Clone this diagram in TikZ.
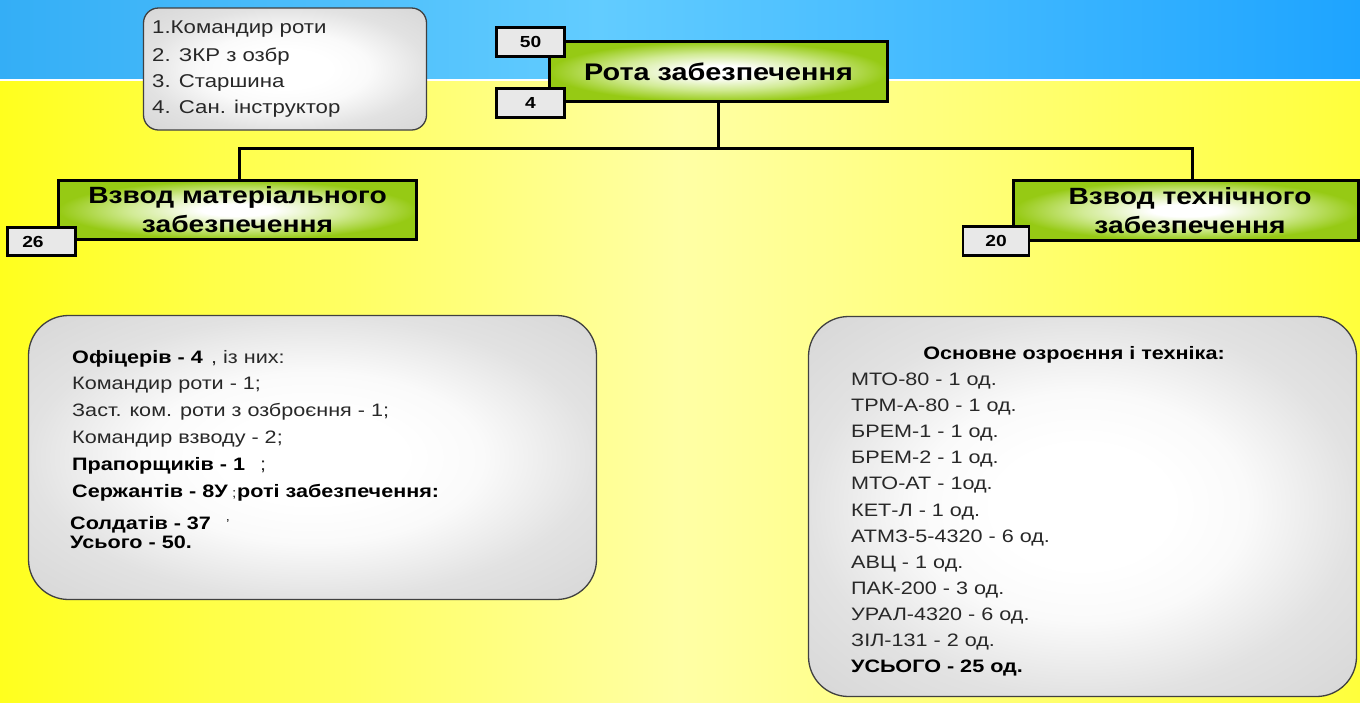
\documentclass[tikz,border=0pt]{standalone}
\usepackage{fontspec}
\setmainfont{Liberation Sans}[FakeStretch=1.2]
\definecolor{grn}{RGB}{150,202,20}
\definecolor{grnL}{RGB}{210,235,150}
\definecolor{boxW}{RGB}{250,250,250}
\definecolor{boxgray}{RGB}{226,226,226}
\definecolor{boxgrayD}{RGB}{212,212,212}
\definecolor{numgray}{RGB}{232,232,232}
\definecolor{blueL}{RGB}{52,174,246}
\definecolor{blueM}{RGB}{98,204,255}
\definecolor{blueR}{RGB}{30,164,255}
\definecolor{yelL}{RGB}{255,255,30}
\definecolor{yelM}{RGB}{255,255,165}
\definecolor{yelR}{RGB}{255,255,60}
\definecolor{txt}{RGB}{40,40,40}
\pgfdeclarehorizontalshading{bluesh}{100bp}{color(0bp)=(blueL); color(25bp)=(blueL); color(47bp)=(blueM); color(75bp)=(blueR); color(100bp)=(blueR)}
\pgfdeclarehorizontalshading{yelsh}{100bp}{color(0bp)=(yelL); color(25bp)=(yelL); color(50bp)=(yelM); color(75bp)=(yelR); color(100bp)=(yelR)}
\pgfdeclareradialshading{greenglow}{\pgfpoint{0bp}{0bp}}{color(0bp)=(white); color(5bp)=(white); color(15bp)=(grnL); color(25bp)=(grn); color(50bp)=(grn)}
\pgfdeclareradialshading{grayglow}{\pgfpoint{0bp}{0bp}}{color(0bp)=(white); color(8bp)=(white); color(15bp)=(boxW); color(25bp)=(boxgray); color(38bp)=(boxgrayD); color(50bp)=(boxgrayD)}
\tikzset{
  greenbox/.style={draw=black, line width=2.6pt, shade, shading=greenglow, inner sep=0pt, align=center, text=black,
    font=\bfseries\fontsize{23.5}{29}\selectfont},
  numbox/.style={draw=black, line width=2.6pt, fill=numgray, inner sep=0pt, text=black,
    font=\bfseries\fontsize{16}{18}\selectfont},
  graybox/.style={draw=black!75, line width=1.3pt, shade, shading=grayglow, inner sep=0pt},
  conn/.style={draw=black, line width=3pt},
  ln/.style={anchor=base west, inner sep=0pt, text=txt, font=\fontsize{18}{20}\selectfont},
  lnb/.style={anchor=base west, inner sep=0pt, text=black, font=\bfseries\fontsize{18}{20}\selectfont},
  noteln/.style={anchor=base west, inner sep=0pt, text=txt, font=\fontsize{18.5}{20}\selectfont}
}
\begin{document}
\begin{tikzpicture}[x=1pt,y=-1pt]
\useasboundingbox (0,0) rectangle (1360,702);
% background
\shade[shading=yelsh] (0,80) rectangle (1360,702);
\shade[shading=bluesh] (0,0) rectangle (1360,80);
\draw[white, line width=2pt] (0,80) -- (1360,80);

% note box
\node[graybox, rounded corners=15pt, minimum width=283pt, minimum height=122pt] (note) at (285,69) {};
\node[noteln] (note1) at (152,33.5) {1.Командир роти};
\node[noteln] (note2) at (152,61) {2. ЗКР з озбр};
\node[noteln] (note3) at (152,87.5) {3. Старшина};
\node[noteln] (note4) at (152,113.5) {4. Сан. інструктор};

% main box
\node[greenbox, font=\bfseries\fontsize{24}{29}\selectfont, minimum width=338pt, minimum height=60pt] (rota) at (718.5,71.5) {Рота забезпечення};
\node[numbox, minimum width=68pt, minimum height=29pt] (n50) at (530.5,42) {50};
\node[numbox, minimum width=68pt, minimum height=29pt] (n4) at (530.5,103) {4};

% platoons
\node[greenbox, minimum width=358pt, minimum height=59pt] (lmat) at (237.5,210) {Взвод матеріального\\забезпечення};
\node[greenbox, minimum width=345pt, minimum height=60pt] (rtech) at (1186,210.5) {\hspace*{8pt}Взвод технічного\\\hspace*{8pt}забезпечення};
\node[numbox, minimum width=68pt, minimum height=28pt] (n26) at (41.5,241.5) {26\hspace*{17pt}};
\node[numbox, minimum width=66pt, minimum height=29pt] (n20) at (996,241) {20};

% connectors
\coordinate (bus) at (0,148);
\draw[conn] (rota.south) -- (rota.south |- bus);
\draw[conn] ([xshift=1.5pt]lmat.north) |- (rota.south |- bus) -| ([xshift=6pt]rtech.north);

% left info box
\node[graybox, rounded corners=40pt, minimum width=568pt, minimum height=284pt] (linfo) at (312.5,457.5) {};
\node[lnb] (l1a) at (72,363) {Офіцерів - 4};
\node[ln] (l1b) at (211,363) {, із них:};
\node[ln] (l2) at (72,389.5) {Командир роти - 1;};
\node[ln] (l3) at (72,416) {Заст. ком. роти з озброєння - 1;};
\node[ln] (l4) at (72,443) {Командир взводу - 2;};
\node[lnb] (l5a) at (72,470) {Прапорщиків - 1};
\node[ln] (l5b) at (260,470) {;};
\node[lnb] (l6a) at (72,497.5) {Сержантів - 8У};
\node[ln, font=\fontsize{13}{14}\selectfont] (l6b) at (232,497.5) {;};
\node[lnb] (l6c) at (237,497.5) {роті забезпечення:};
\node[lnb] (l7a) at (70,529) {Солдатів - 37};
\node[ln, font=\fontsize{13}{14}\selectfont] (l7b) at (226,528) {'};
\node[lnb] (l8) at (70,548) {Усього - 50.};

% right info box
\node[graybox, rounded corners=40pt, minimum width=548pt, minimum height=380pt] (rinfo) at (1082.5,506.5) {};
\node[anchor=base, inner sep=0pt, text=black, font=\bfseries\fontsize{18}{20}\selectfont] (rhead) at (1074,359.5) {Основне озроєння і техніка:};
\node[ln] (r1) at (851,385.5) {МТО-80 - 1 од.};
\node[ln] (r2) at (851,411.6) {ТРМ-А-80 - 1 од.};
\node[ln] (r3) at (851,437.7) {БРЕМ-1 - 1 од.};
\node[ln] (r4) at (851,463.8) {БРЕМ-2 - 1 од.};
\node[ln] (r5) at (851,489.9) {МТО-АТ - 1од.};
\node[ln] (r6) at (851,516) {КЕТ-Л - 1 од.};
\node[ln] (r7) at (851,542.1) {АТМЗ-5-4320 - 6 од.};
\node[ln] (r8) at (851,568.2) {АВЦ - 1 од.};
\node[ln] (r9) at (851,594.3) {ПАК-200 - 3 од.};
\node[ln] (r10) at (851,620.4) {УРАЛ-4320 - 6 од.};
\node[ln] (r11) at (851,646.5) {ЗІЛ-131 - 2 од.};
\node[lnb] (r12) at (851,672.6) {УСЬОГО - 25 од.};
\end{tikzpicture}
\end{document}
